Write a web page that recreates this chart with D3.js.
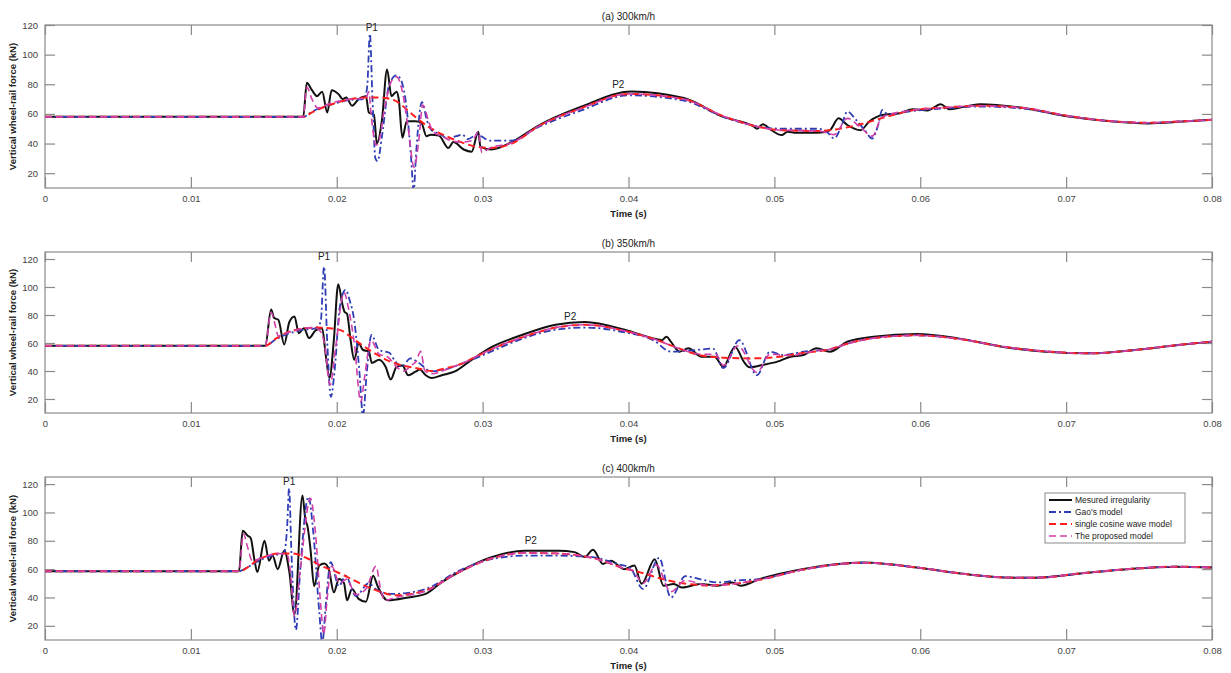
<!DOCTYPE html>
<html>
<head>
<meta charset="utf-8">
<script src="https://cdn.jsdelivr.net/npm/d3@7"></script>
<style>
  body { margin: 0; background: #fff; }
  svg { display: block; font-family: "Liberation Sans", Arial, sans-serif; }
</style>
</head>
<body>
<div id="chart"></div>
<script>
// time in ms, force in kN
const xTicks = [0, 10, 20, 30, 40, 50, 60, 70, 80];
const xTickLabels = ["0", "0.01", "0.02", "0.03", "0.04", "0.05", "0.06", "0.07", "0.08"];
const yTicks = [20, 40, 60, 80, 100, 120];
const panelTitles = ["(a) 300km/h", "(b) 350km/h", "(c) 400km/h"];
const yMax = [120, 125, 125];
const seriesNames = ["Mesured irregularity", "Gao's model", "single cosine wave model", "The proposed model"];

// (a) 300 km/h
const measA = [[0,58],[17.7,58],[17.95,81],[18.3,76],[18.65,72],[19.0,75],[19.35,61],[19.65,76],[20.15,73],[20.4,70],[20.65,71],[21.05,65.5],[21.5,70],[22.0,72],[22.2,61],[22.55,59.5],[22.75,40],[23.1,56],[23.45,90],[23.75,72],[24.1,75],[24.25,70],[24.5,44],[24.8,55],[25.4,55],[25.8,54],[26.15,45],[26.45,46],[27.0,45.5],[27.65,37],[28.0,41],[28.7,36],[29.25,34.5],[29.7,48],[29.85,38],[30.6,36],[32.0,41],[33.8,52],[36.8,65],[40.2,75.2],[43.8,70.7],[46.5,58],[48.6,51.4],[48.8,50],[49.2,53],[49.8,49],[50.5,45.7],[50.9,48],[51.5,47.3],[52.9,47.3],[53.8,49],[54.4,57],[55.0,52.5],[55.9,49],[56.5,54.8],[57.4,59.3],[58.6,60.5],[59.5,63.2],[60.5,62.3],[61.4,66.6],[62.0,63.2],[64.1,66.6],[67.1,64],[70.2,58.2],[73.2,54.8],[75.6,53.6],[78.0,54.8],[80,56]];
const gaoA = [[0,58],[17.7,58],[18.3,61.5],[19.5,66],[21.0,69.5],[21.9,70],[22.1,80],[22.27,114],[22.45,70],[22.65,30],[22.8,28],[23.1,45],[23.6,80],[24.1,86],[24.4,83],[24.8,63],[25.1,30],[25.27,8],[25.45,35],[25.84,68],[26.2,55],[26.6,48],[27.0,47],[27.6,43.5],[28.2,45],[28.6,46],[29.0,43],[29.6,46],[30.5,42],[32.0,42],[33.8,51],[36.8,62.5],[40.0,72.5],[43.8,69],[46.5,58],[48.6,52],[50.5,50],[53.0,50],[53.6,48],[54.1,43.4],[54.6,52],[55.0,61.6],[55.6,56],[56.2,49],[56.7,43.4],[57.1,52],[57.4,62.7],[57.8,59.5],[59.5,62],[62,64],[64.1,65],[67.1,63.5],[70.2,58.5],[73.2,55],[75.6,54],[78,55],[80,56]];
const cosA = [[0,58],[17.7,58],[18.3,61],[19.5,66],[21.0,70],[22.0,71],[23.0,71],[24.0,69],[24.8,63],[25.5,57],[26.5,50],[27.5,45],[28.5,41],[29.5,38],[30.5,37],[32.0,40],[33.8,51.5],[36.8,64],[40.0,73.5],[43.8,70],[46.5,58.5],[48.6,52],[50.5,49],[53.0,48.5],[55.5,52],[57.5,57.5],[59.5,62.5],[62,64.5],[64.1,65.5],[67.1,64],[70.2,58.5],[73.2,55],[75.6,54],[78,55],[80,56]];
const propA = [[0,58],[17.7,58],[17.95,78],[18.3,70],[18.7,64],[19.5,67],[21,70],[22.0,70.5],[22.2,75],[22.35,60],[22.7,39],[22.9,42],[23.3,65],[23.8,83],[24.1,85],[24.5,75],[24.9,50],[25.3,24],[25.6,40],[25.9,66],[26.3,55],[26.6,48],[27.2,45],[27.8,42],[28.5,41],[29.3,42],[29.7,48],[29.95,34],[30.5,37],[32.0,40.5],[33.8,51.5],[36.8,64],[40.0,73.5],[43.8,70],[46.5,58.5],[48.6,52],[50.5,49],[53.0,48.5],[54.1,46],[55,57],[55.9,51],[56.7,45],[57.4,58],[59.5,62.5],[62,64.5],[64.1,65.5],[67.1,64],[70.2,58.5],[73.2,55],[75.6,54],[78,55],[80,56]];

// (b) 350 km/h
const measB = [[0,58],[15.1,58],[15.5,84],[15.7,78],[16.0,76.5],[16.4,59],[16.75,75],[17.1,79],[17.4,67],[17.75,70.5],[18.1,63.5],[18.55,69],[19.0,70.5],[19.25,51],[19.5,35],[19.8,62],[20.1,102],[20.4,87],[20.55,82],[20.7,81],[20.95,62],[21.2,48],[21.5,60],[21.8,55],[22.2,54],[22.4,45.7],[22.9,48],[23.35,43],[23.7,34],[24.1,43],[24.5,44],[24.9,37],[25.4,39.5],[25.7,41],[26.1,37],[26.5,35],[27.2,37],[28.1,39.7],[29.25,48],[30.6,57],[32.7,65.7],[35.0,73],[37.0,75],[39.8,69.3],[41.7,63.3],[42.3,62],[42.6,64.5],[42.9,61],[43.5,53.8],[44.1,56.2],[45.0,50.2],[45.9,50.2],[46.5,43],[47.3,57.4],[47.9,46.7],[48.3,42.6],[49.2,44.3],[50.2,46.7],[51.1,50.2],[52.0,51.4],[52.9,56.2],[53.8,53.8],[55.0,61],[56.8,64.5],[59.8,66.4],[62.6,63.3],[65.6,57.4],[68.6,53.8],[71.7,52.6],[74.7,55],[77.7,58.6],[80,61]];
const gaoB = [[0,58],[15.1,58],[15.8,62.5],[16.5,66],[17.5,69],[18.5,70.5],[18.9,75],[19.13,114.5],[19.35,60],[19.6,21.6],[19.85,40],[20.2,85],[20.6,98],[20.9,90],[21.2,76],[21.55,40],[21.8,8],[22.05,38],[22.38,65.7],[22.9,55],[23.6,53],[24.0,47],[24.45,43],[25.05,49],[25.6,46],[26.5,39.7],[27.4,41],[28.5,45],[29.5,49],[30.6,54],[32.7,63],[35.0,69.5],[37.0,71],[39.8,67.5],[41.7,62],[42.9,53.8],[44.7,55],[45.8,56],[46.5,42],[47.6,62],[48.8,37],[49.7,53.8],[50.6,51.4],[52.0,53.8],[53.8,55.5],[55.0,59.5],[56.8,63.5],[59.8,65.5],[62.6,63],[65.6,57.5],[68.6,54],[71.7,52.6],[74.7,55],[77.7,58.6],[80,61]];
const cosB = [[0,58],[15.1,58],[15.8,63],[16.5,67],[17.5,70],[18.5,71],[19.5,70.5],[20.3,69],[21.0,64],[21.8,58],[22.7,52],[23.6,47],[24.5,44],[25.5,42],[26.5,40],[27.5,42],[28.5,45],[29.5,50],[30.6,55.5],[32.7,64],[35.0,71],[37.0,73],[39.8,68.5],[41.7,63],[43.5,56],[45.0,51],[46.5,49.5],[48.3,49],[50.2,50],[52.0,53],[53.8,55.5],[55.0,59.5],[56.8,63.5],[59.8,65.5],[62.6,63],[65.6,57.5],[68.6,54],[71.7,52.6],[74.7,55],[77.7,58.6],[80,61]];
const propB = [[0,58],[15.1,58],[15.5,82],[15.75,74],[16.0,65],[16.5,67],[17.5,70],[18.5,71],[18.9,68],[19.15,60],[19.55,30],[19.9,55],[20.5,96],[20.8,85],[21.2,60],[21.65,18],[21.9,35],[22.35,62],[22.9,52],[23.5,50],[24.2,42],[24.6,40],[25.1,44],[25.45,47],[25.75,54],[26.05,40],[26.5,38],[27.5,41],[28.5,45],[29.5,50],[30.6,55.5],[32.7,64],[35.0,71],[37.0,73],[39.8,68.5],[41.7,63],[43.5,56],[45.0,52],[46.0,52],[46.5,44],[47.5,58],[48.8,39],[49.7,52],[51.1,51],[52.9,54.5],[53.8,55.5],[55.0,59.5],[56.8,63.5],[59.8,65.5],[62.6,63],[65.6,57.5],[68.6,54],[71.7,52.6],[74.7,55],[77.7,58.6],[80,61]];

// (c) 400 km/h
const measC = [[0,58.5],[13.3,58.5],[13.55,87],[13.9,83.6],[14.1,82],[14.35,67],[14.55,58],[15.05,80],[15.35,66],[15.6,69.6],[15.95,60],[16.4,73],[16.75,58],[17.1,28],[17.65,112],[17.85,95],[18.0,90],[18.2,74],[18.45,48],[18.8,62.5],[19.15,64],[19.45,60],[19.8,43.7],[20.15,53],[20.5,50],[20.7,38],[21.05,46],[21.5,39],[22.0,37],[22.5,55.4],[22.8,48],[23.5,38],[24.9,40],[26.1,42.5],[27.2,50.8],[28.35,57.8],[30.6,68.4],[32.9,73],[35.2,73],[36.3,72],[37.0,68.6],[37.57,73.7],[38.25,63.7],[38.8,66],[39.7,60],[40.4,62.5],[40.9,49.6],[41.8,67],[42.4,48.3],[43.1,49.5],[43.7,47],[44.9,49.5],[46.1,48.3],[47.1,50.6],[47.7,48.3],[49.0,53],[51.9,60],[56.1,64.7],[59.9,61],[63.1,56.5],[66.3,54],[67.9,54],[71.0,57],[74.2,60],[77.5,61.7],[80,61.2]];
const gaoC = [[0,58.5],[13.3,58.5],[14.0,62],[14.5,65],[15.0,67.5],[16.0,70.5],[16.4,72],[16.6,90],[16.73,117],[16.9,70],[17.2,17],[17.5,60],[18.06,111],[18.4,85],[18.8,30],[19.01,8],[19.25,35],[19.58,65],[20.15,48],[20.6,55.4],[21.3,41],[22.2,50],[22.66,46],[23.8,42.5],[26.1,46],[28.4,59],[30.6,67],[32.9,69.5],[35.2,69.5],[37.5,68.4],[39.3,63.5],[40.1,61],[41.0,46],[42.1,68],[42.9,40],[43.9,55],[44.9,53],[46.1,50.6],[47.4,52],[49.0,53],[51.9,59.5],[56.1,64.5],[59.9,61],[63.1,56.5],[66.3,54],[67.9,54],[71.0,57],[74.2,60],[77.5,61.7],[80,61.2]];
const cosC = [[0,58.5],[13.3,58.5],[14.0,62],[14.5,66],[15.0,68.5],[16.0,71],[17.0,71],[18.0,67.5],[19.0,62],[20.0,58],[21.0,53],[22.0,48],[23.0,44],[24.0,41.5],[26.1,45],[28.35,57.8],[30.6,67.5],[32.9,71.5],[35.2,71],[37.9,67],[39.7,60.5],[40.7,58],[42.0,54],[43.7,50],[45.5,48.5],[47.1,49.5],[49.0,52.5],[51.9,59.5],[56.1,64.5],[59.9,61],[63.1,56.5],[66.3,54],[67.9,54],[71.0,57],[74.2,60],[77.5,61.7],[80,61.2]];
const propC = [[0,58.5],[13.3,58.5],[13.6,85],[13.9,75],[14.2,66],[15.0,68.5],[16.0,71],[16.6,70],[16.8,60],[17.1,27],[17.5,60],[18.2,110],[18.5,90],[18.9,35],[19.1,14],[19.35,40],[19.65,62],[20.2,50],[20.7,53],[21.3,42],[22.0,46],[22.7,62],[23.0,46],[23.3,38],[24.0,40],[26.1,44.5],[28.35,57.8],[30.6,67.5],[32.9,71.5],[35.2,71],[37.9,67],[39.7,60.5],[40.3,59],[41.0,50],[41.9,63],[42.9,44],[43.9,52],[45.5,48.5],[47.1,49.5],[49.0,52.5],[51.9,59.5],[56.1,64.5],[59.9,61],[63.1,56.5],[66.3,54],[67.9,54],[71.0,57],[74.2,60],[77.5,61.7],[80,61.2]];

// peak labels [time, force]
const p1Pos = [[22.4, 118.6], [19.13, 121.5], [16.74, 121.5]];
const p2Pos = [[39.3, 80], [36.0, 78.6], [33.3, 80]];

const width = 1231, height = 673;
const left = 45, right = 1212;
const tops = [25, 252, 477];
const bottoms = [188, 413, 640];

const colors = ["#111111", "#2f3db5", "#ff1f1f", "#d040a8"];
const dashes = [null, "7,3,2,3", "7,4", "7,4"];
const strokeW = [2, 1.8, 2, 1.6];

const panelSeries = [
  [measA, gaoA, cosA, propA],
  [measB, gaoB, cosB, propB],
  [measC, gaoC, cosC, propC]
];

const svg = d3.select("#chart")
  .append("svg")
  .attr("width", width)
  .attr("height", height);

const x = d3.scaleLinear().domain([0, 80]).range([left, right]);

panelSeries.forEach((series, i) => {
  const top = tops[i], bottom = bottoms[i];
  const y = d3.scaleLinear().domain([10, yMax[i]]).range([bottom, top]);
  const g = svg.append("g");

  g.append("clipPath").attr("id", "clip" + i)
    .append("rect")
    .attr("x", left).attr("y", top)
    .attr("width", right - left).attr("height", bottom - top);

  // frame
  g.append("rect")
    .attr("x", left).attr("y", top)
    .attr("width", right - left).attr("height", bottom - top)
    .style("fill", "#fff")
    .style("stroke", "#8a8a8a")
    .style("stroke-width", 1.2);

  // axes, ticks pointing inward on all four sides
  const axisStyle = sel => {
    sel.select(".domain").remove();
    sel.selectAll("line").style("stroke", "#8a8a8a").style("stroke-width", 1.2);
    sel.selectAll("text").style("fill", "#444").style("font-size", "9.5px");
  };

  g.append("g")
    .attr("transform", `translate(0,${bottom})`)
    .call(d3.axisBottom(x).tickValues(xTicks).tickFormat((d, k) => xTickLabels[k]).tickSizeInner(-11).tickPadding(7))
    .call(axisStyle);
  g.append("g")
    .attr("transform", `translate(0,${top})`)
    .call(d3.axisTop(x).tickValues(xTicks).tickFormat("").tickSizeInner(-10))
    .call(axisStyle);
  g.append("g")
    .attr("transform", `translate(${left},0)`)
    .call(d3.axisLeft(y).tickValues(yTicks).tickSizeInner(-10).tickPadding(7))
    .call(axisStyle);
  g.append("g")
    .attr("transform", `translate(${right},0)`)
    .call(d3.axisRight(y).tickValues(yTicks).tickFormat("").tickSizeInner(-10))
    .call(axisStyle);

  // curves
  const line = d3.line()
    .x(d => x(d[0]))
    .y(d => y(d[1]))
    .curve(d3.curveMonotoneX);

  const lines = g.append("g").attr("clip-path", `url(#clip${i})`);
  series.forEach((data, k) => {
    lines.append("path")
      .datum(data)
      .attr("d", line)
      .style("fill", "none")
      .style("stroke", colors[k])
      .style("stroke-width", strokeW[k])
      .style("stroke-dasharray", dashes[k])
      .style("stroke-linejoin", "round");
  });

  // titles and labels
  g.append("text")
    .attr("x", (left + right) / 2)
    .attr("y", top - 5)
    .attr("text-anchor", "middle")
    .style("font-size", "10px")
    .style("fill", "#222")
    .text(panelTitles[i]);

  g.append("text")
    .attr("x", (left + right) / 2)
    .attr("y", bottom + 29)
    .attr("text-anchor", "middle")
    .style("font-size", "9.5px")
    .style("font-weight", "bold")
    .style("fill", "#222")
    .text("Time (s)");

  g.append("text")
    .attr("transform", `translate(16,${(top + bottom) / 2}) rotate(-90)`)
    .attr("text-anchor", "middle")
    .style("font-size", "9.5px")
    .style("font-weight", "bold")
    .style("fill", "#222")
    .text("Vertical wheel-rail force (kN)");

  g.append("text")
    .attr("x", x(p1Pos[i][0]))
    .attr("y", y(p1Pos[i][1]))
    .attr("dy", "0.35em")
    .attr("text-anchor", "middle")
    .style("font-size", "10px")
    .style("fill", "#222")
    .text("P1");

  g.append("text")
    .attr("x", x(p2Pos[i][0]))
    .attr("y", y(p2Pos[i][1]))
    .attr("dy", "0.35em")
    .attr("text-anchor", "middle")
    .style("font-size", "10px")
    .style("fill", "#222")
    .text("P2");
});

// legend inside panel (c)
const legend = svg.append("g").attr("transform", "translate(1045,493)");
legend.append("rect")
  .attr("width", 140).attr("height", 50)
  .style("fill", "#fff")
  .style("stroke", "#8a8a8a")
  .style("stroke-width", 1);

seriesNames.forEach((name, k) => {
  const ly = 7 + k * 12;
  legend.append("line")
    .attr("x1", 4).attr("x2", 27)
    .attr("y1", ly).attr("y2", ly)
    .style("stroke", colors[k])
    .style("stroke-width", strokeW[k])
    .style("stroke-dasharray", dashes[k]);
  legend.append("text")
    .attr("x", 30).attr("y", ly)
    .attr("dy", "0.35em")
    .style("font-size", "8.5px")
    .style("fill", "#222")
    .text(name);
});
</script>
</body>
</html>
